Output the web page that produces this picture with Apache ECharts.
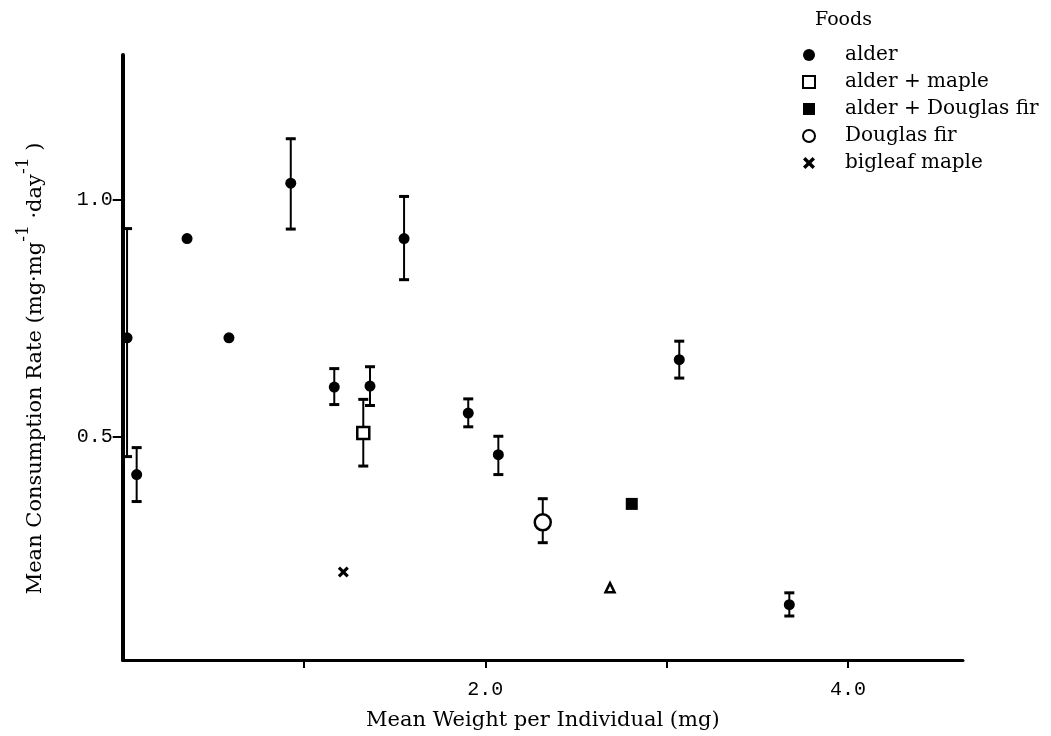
<!DOCTYPE html>
<html>
<head>
<meta charset="utf-8">
<script src="https://cdn.jsdelivr.net/npm/echarts@6/dist/echarts.min.js"></script>
<style>
html,body{margin:0;padding:0;background:#fff;}
#chart{width:1051px;height:736px;}
</style>
</head>
<body>
<div id="chart"></div>
<script>
// ---- data ----
var legendTitle = 'Foods';
var seriesNames = ['alder', 'alder + maple', 'alder + Douglas fir', 'Douglas fir', 'bigleaf maple'];

var alderX    = [0.024, 0.077, 0.355, 0.586, 0.927, 1.552, 1.167, 1.364, 1.906, 2.072, 3.070, 3.677];
var alderY    = [0.708, 0.419, 0.918, 0.708, 1.035, 0.918, 0.604, 0.606, 0.549, 0.461, 0.662, 0.144];
var alderLow  = [0.457, 0.362, null,  null,  0.938, 0.831, 0.567, 0.565, 0.520, 0.419, 0.623, 0.120];
var alderHigh = [0.939, 0.476, null,  null,  1.129, 1.007, 0.643, 0.647, 0.579, 0.500, 0.701, 0.169];

var alderMapleX = [1.327];
var alderMapleY = [0.507];
var alderMapleLow = [0.437];
var alderMapleHigh = [0.578];

var alderFirX = [2.808];
var alderFirY = [0.357];

var firX = [2.317];
var firY = [0.318];
var firLow = [0.275];
var firHigh = [0.368];

var mapleX = [1.217];
var mapleY = [0.213];

var triangleX = [2.688];
var triangleY = [0.180];

var xLabelValues = [2, 4];
var xTickValues = [1, 2, 3, 4];
var yTickValues = [0.5, 1.0];

var xTitle = 'Mean Weight per Individual (mg)';

// ---- helpers ----
function pts(xs, ys) { return xs.map(function (x, i) { return [x, ys[i]]; }); }
function bars(xs, lo, hi) {
  var out = [];
  xs.forEach(function (x, i) { if (lo[i] != null && hi[i] != null) out.push([x, lo[i], hi[i]]); });
  return out;
}
function renderErr(params, api) {
  var x = api.value(0), lo = api.value(1), hi = api.value(2);
  var p1 = api.coord([x, hi]);
  var p2 = api.coord([x, lo]);
  var w = 5;
  return {
    type: 'group',
    children: [
      { type: 'line', shape: { x1: p1[0], y1: p1[1], x2: p2[0], y2: p2[1] }, style: { stroke: '#000', lineWidth: 2 } },
      { type: 'line', shape: { x1: p1[0] - w, y1: p1[1], x2: p1[0] + w, y2: p1[1] }, style: { stroke: '#000', lineWidth: 3 } },
      { type: 'line', shape: { x1: p2[0] - w, y1: p2[1], x2: p2[0] + w, y2: p2[1] }, style: { stroke: '#000', lineWidth: 3 } }
    ]
  };
}
function errSeries(data) {
  return {
    type: 'custom', renderItem: renderErr, data: data,
    encode: { x: 0, y: [1, 2] }, z: 1, silent: true
  };
}

var serif = 'DejaVu Serif';
var mono = 'Liberation Mono';
var crossPath = 'path://M0,2L2,0L5,3L8,0L10,2L7,5L10,8L8,10L5,7L2,10L0,8L3,5Z';

var option = {
  backgroundColor: '#fff',
  animation: false,
  title: {
    text: legendTitle, left: 810, top: 6,
    textStyle: { fontFamily: serif, fontSize: 19, fontWeight: 'normal', color: '#000' }
  },
  legend: {
    data: seriesNames,
    orient: 'vertical', left: 797, top: 40,
    itemWidth: 12, itemHeight: 12, itemGap: 7,
    textStyle: { fontFamily: serif, fontSize: 20, color: '#000', lineHeight: 20, padding: [0, 0, 0, 25] },
    selectedMode: false
  },
  grid: { left: 122.7, right: 88, top: 55, bottom: 75.5 },
  xAxis: {
    type: 'value', min: 0, max: 4.635,
    splitLine: { show: false },
    axisLine: { lineStyle: { color: '#000', width: 3 } },
    axisTick: { customValues: xTickValues, length: 8, lineStyle: { color: '#000', width: 2 } },
    axisLabel: {
      customValues: xLabelValues, margin: 20, color: '#000', fontFamily: mono, fontSize: 20,
      formatter: function (v) { return v.toFixed(1); }
    },
    name: xTitle, nameLocation: 'middle', nameGap: 50,
    nameTextStyle: { fontFamily: serif, fontSize: 21, color: '#000' }
  },
  yAxis: {
    type: 'value', min: 0.027, max: 1.306,
    splitLine: { show: false },
    axisLine: { lineStyle: { color: '#000', width: 4 } },
    axisTick: { customValues: yTickValues, length: 10, lineStyle: { color: '#000', width: 2 } },
    axisLabel: {
      customValues: yTickValues, margin: 10, color: '#000', fontFamily: mono, fontSize: 20,
      formatter: function (v) { return v.toFixed(1); }
    },
    name: 'Mean Consumption Rate (mg·mg{s|-1} ·day{s|-1} )',
    nameLocation: 'middle', nameGap: 67, nameRotate: 90,
    nameTextStyle: {
      fontFamily: serif, fontSize: 21, color: '#000', padding: [0, 22, 0, 0],
      rich: { s: { fontFamily: serif, fontSize: 17, color: '#000', padding: [0, 0, 24, 0] } }
    }
  },
  series: [
    errSeries(bars(alderX, alderLow, alderHigh)),
    errSeries(bars(alderMapleX, alderMapleLow, alderMapleHigh)),
    errSeries(bars(firX, firLow, firHigh)),
    {
      name: seriesNames[0], type: 'scatter', data: pts(alderX, alderY), z: 3,
      symbol: 'circle', symbolSize: 11, itemStyle: { color: '#000', opacity: 1 }
    },
    {
      name: seriesNames[1], type: 'scatter', data: pts(alderMapleX, alderMapleY), z: 3,
      symbol: 'rect', symbolSize: 12, itemStyle: { color: '#fff', borderColor: '#000', borderWidth: 2.5, opacity: 1 }
    },
    {
      name: seriesNames[2], type: 'scatter', data: pts(alderFirX, alderFirY), z: 3,
      symbol: 'rect', symbolSize: 12, itemStyle: { color: '#000', opacity: 1 }
    },
    {
      name: seriesNames[3], type: 'scatter', data: pts(firX, firY), z: 3,
      symbol: 'circle', symbolSize: 16, itemStyle: { color: '#fff', borderColor: '#000', borderWidth: 2.5, opacity: 1 }
    },
    {
      name: seriesNames[4], type: 'scatter', data: pts(mapleX, mapleY), z: 3,
      symbol: crossPath, symbolSize: 11, itemStyle: { color: '#000', opacity: 1 }
    },
    {
      name: 'triangle', type: 'scatter', data: pts(triangleX, triangleY), z: 3,
      symbol: 'triangle', symbolSize: 9, itemStyle: { color: '#fff', borderColor: '#000', borderWidth: 2.5, opacity: 1 }
    }
  ]
};

var chart = echarts.init(document.getElementById('chart'), null, { renderer: 'canvas' });
chart.setOption(option);
</script>
</body>
</html>
